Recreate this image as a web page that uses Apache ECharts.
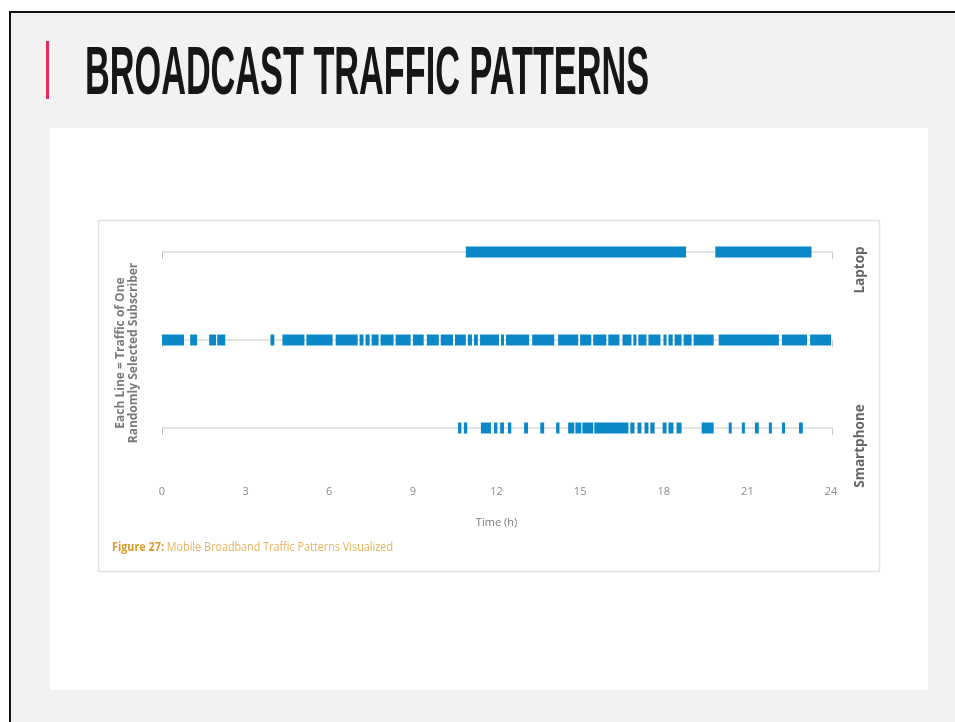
<!DOCTYPE html>
<html><head><meta charset="utf-8">
<script src="https://cdn.jsdelivr.net/npm/echarts@6/dist/echarts.min.js"></script>
<style>html,body{margin:0;padding:0;background:#fff}#c{width:955px;height:722px}</style>
</head><body><div id="c"></div>
<script>
// ---- data ----
const pageTitle = 'BROADCAST TRAFFIC PATTERNS';
const devices = ['Smartphone', 'Tablet', 'Laptop'];
const xTicks = [0, 3, 6, 9, 12, 15, 18, 21, 24];
const yAxisTitle = 'Each Line = Traffic of One\nRandomly Selected Subscriber';
const xAxisTitle = 'Time (h)';
const captionLabel = 'Figure 27:';
const captionText = ' Mobile Broadband Traffic Patterns Visualized';

// sessions as [start hour, end hour]
const laptopSessions = [[10.9, 18.8], [19.85, 23.3]];
const tabletSessions = [
  [0.0, 0.79], [1.01, 1.26], [1.69, 1.94], [1.98, 2.27], [3.89, 4.03],
  [4.32, 5.11], [5.18, 6.12], [6.23, 7.02], [7.09, 7.23], [7.30, 7.45],
  [7.52, 7.77], [7.84, 8.31], [8.38, 8.92], [9.00, 9.39], [9.50, 9.93],
  [10.00, 10.44], [10.51, 10.90], [10.97, 11.12], [11.19, 11.33], [11.41, 12.09],
  [12.16, 12.27], [12.34, 13.17], [13.28, 14.07], [14.21, 14.93], [15.00, 15.40],
  [15.47, 15.94], [16.01, 16.41], [16.52, 16.84], [16.91, 17.02], [17.09, 17.38],
  [17.45, 17.88], [17.99, 18.10], [18.17, 18.32], [18.39, 18.64], [18.71, 19.00],
  [19.07, 19.79], [19.97, 22.13], [22.24, 23.14], [23.25, 24.0]
];
const smartphoneSessions = [
  [10.62, 10.74], [10.83, 10.95], [11.44, 11.80], [11.91, 12.03], [12.13, 12.27],
  [12.41, 12.53], [12.99, 13.13], [13.57, 13.71], [14.14, 14.26], [14.57, 14.79],
  [14.83, 15.04], [15.08, 15.47], [15.51, 16.73], [16.80, 16.95], [17.06, 17.20],
  [17.31, 17.45], [17.52, 17.67], [17.96, 18.10], [18.17, 18.35], [18.46, 18.64],
  [19.36, 19.79], [20.33, 20.44], [20.80, 20.91], [21.27, 21.41], [21.77, 21.88],
  [22.24, 22.35], [22.85, 22.99]
];

// ---- build ----
const sessionsByDevice = { Smartphone: smartphoneSessions, Tablet: tabletSessions, Laptop: laptopSessions };
const barData = [];
devices.forEach((d, i) => sessionsByDevice[d].forEach(s => barData.push([i, s[0], s[1]])));
const baseData = devices.map((d, i) => [i, xTicks[0], xTicks[xTicks.length - 1]]);

// text width helper for condensed-looking text (scaled horizontally)
const mctx = document.createElement('canvas').getContext('2d');
function textWidth(font, txt) { mctx.font = font; return mctx.measureText(txt).width; }
const TITLE_FONT = 'bold 68px "Liberation Sans"';
const titleScale = 564 / textWidth(TITLE_FONT, pageTitle);
const CAP_FONT_A = 'bold 12px "Open Sans"';
const CAP_FONT_B = '12px "Open Sans"';
const capScale = 281 / (textWidth(CAP_FONT_A, captionLabel) + textWidth(CAP_FONT_B, captionText));

const BLUE = '#0b88c7';
const chart = echarts.init(document.getElementById('c'), null, { renderer: 'canvas' });

function renderBar(params, api) {
  const cat = api.value(0);
  const p1 = api.coord([api.value(1), cat]);
  const p2 = api.coord([api.value(2), cat]);
  const h = 11;
  return {
    type: 'rect',
    shape: { x: p1[0], y: p1[1] - h / 2, width: Math.max(p2[0] - p1[0], 2.5), height: h },
    style: { fill: BLUE }
  };
}
function renderBase(params, api) {
  const cat = api.value(0);
  const p1 = api.coord([api.value(1), cat]);
  const p2 = api.coord([api.value(2), cat]);
  const st = { stroke: '#c8c8c8', lineWidth: 1 };
  return {
    type: 'group',
    children: [
      { type: 'line', shape: { x1: p1[0], y1: p1[1], x2: p2[0] + 2, y2: p2[1] }, style: st },
      { type: 'line', shape: { x1: p1[0] + 0.5, y1: p1[1], x2: p1[0] + 0.5, y2: p1[1] + 7 }, style: st },
      { type: 'line', shape: { x1: p2[0] + 1.5, y1: p2[1], x2: p2[0] + 1.5, y2: p2[1] + 7 }, style: st }
    ]
  };
}

const option = {
  backgroundColor: '#ffffff',
  animation: false,
  grid: [
    { left: 162, right: 124, top: 208, height: 264 },
    { left: 162, right: 124, top: 226, height: 264 }
  ],
  xAxis: [
    {
      gridIndex: 0, type: 'value', min: 0, max: 24, interval: 3,
      axisLine: { show: false }, axisTick: { show: false }, splitLine: { show: false },
      axisLabel: { color: '#8a8a8a', fontSize: 11, margin: 14, fontFamily: 'Open Sans' },
      name: xAxisTitle, nameLocation: 'middle', nameGap: 45,
      nameTextStyle: { color: '#777', fontSize: 11, fontFamily: 'Open Sans' }
    },
    { gridIndex: 1, type: 'value', min: 0, max: 24, show: false }
  ],
  yAxis: [
    {
      gridIndex: 0, type: 'category', data: devices,
      axisLine: { show: false }, axisTick: { show: false }, axisLabel: { show: false }, splitLine: { show: false }
    },
    {
      gridIndex: 1, type: 'category', data: devices, position: 'right',
      axisLine: { show: false }, axisTick: { show: false }, splitLine: { show: false },
      axisLabel: { rotate: 90, margin: 22, color: '#666', fontSize: 13.5, fontWeight: 'bold', fontFamily: 'Open Sans' }
    }
  ],
  graphic: [
    { type: 'rect', z: -20, shape: { x: 10, y: 12, width: 1000, height: 800 },
      style: { fill: '#f2f2f2', stroke: '#111', lineWidth: 2 } },
    { type: 'rect', z: -19, shape: { x: 50, y: 128, width: 878, height: 562 }, style: { fill: '#ffffff' } },
    { type: 'rect', z: -18, shape: { x: 98.5, y: 220.5, width: 781, height: 351 },
      style: { fill: '#ffffff', stroke: '#e2e2e2', lineWidth: 1.5 } },
    { type: 'rect', z: -17, shape: { x: 46, y: 41, width: 3, height: 58 }, style: { fill: '#ee2a5a' } },
    { type: 'text', z: 5, x: 85, y: 75, scaleX: titleScale,
      style: { text: pageTitle, fill: '#161616', fontSize: 68, fontWeight: 'bold',
        fontFamily: 'Liberation Sans', align: 'left', verticalAlign: 'middle' } },
    { type: 'text', z: 5, x: 127, y: 353, rotation: Math.PI / 2,
      style: { text: yAxisTitle, fill: '#7a7a7a', fontSize: 12, fontWeight: 'bold', lineHeight: 13,
        fontFamily: 'Open Sans', align: 'center', verticalAlign: 'middle' } },
    { type: 'text', z: 5, x: 112, y: 548, scaleX: capScale,
      style: { text: '{a|' + captionLabel + '}{b|' + captionText + '}', verticalAlign: 'middle', align: 'left',
        rich: {
          a: { fill: '#e09a2c', fontSize: 12, fontWeight: 'bold', fontFamily: 'Open Sans' },
          b: { fill: '#e6b45c', fontSize: 12, fontFamily: 'Open Sans' }
        } } }
  ],
  series: [
    { type: 'custom', name: 'baseline', xAxisIndex: 0, yAxisIndex: 0, renderItem: renderBase,
      encode: { x: [1, 2], y: 0 }, data: baseData, z: 2, silent: true },
    { type: 'custom', name: 'sessions', xAxisIndex: 0, yAxisIndex: 0, renderItem: renderBar,
      encode: { x: [1, 2], y: 0 }, data: barData, z: 3 }
  ]
};
chart.setOption(option);
</script>
</body></html>
